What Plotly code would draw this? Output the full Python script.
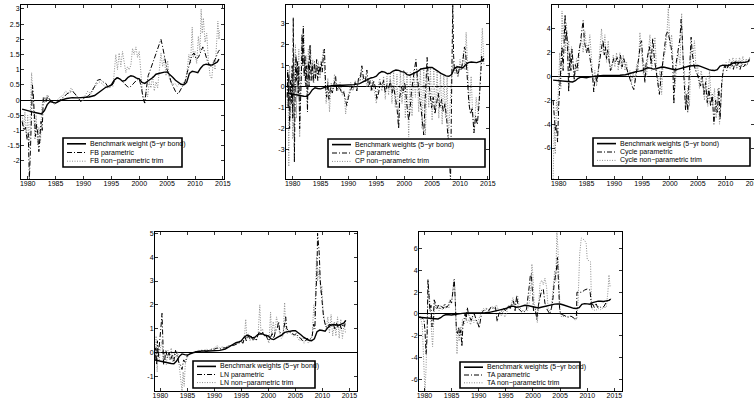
import plotly.graph_objects as go

W, H = 754, 402
FONT = "Liberation Sans, Arial, Helvetica, sans-serif"

# ---------------- data (year, value) ----------------
BENCH = [(1979.0,-0.30),(1979.5,-0.33),(1980.0,-0.36),(1980.5,-0.38),(1981.0,-0.40),(1981.5,-0.42),(1982.0,-0.45),(1982.5,-0.46),(1983.0,-0.35),(1983.5,-0.15),(1984.0,-0.05),(1984.5,-0.08),(1985.0,-0.10),(1985.5,-0.05),(1986.0,0.0),(1987.0,0.05),(1988.0,0.08),(1989.0,0.07),(1990.0,0.08),(1991.0,0.10),(1992.0,0.15),(1992.5,0.22),(1993.0,0.30),(1993.5,0.38),(1994.0,0.42),(1994.5,0.45),(1995.0,0.50),(1995.5,0.65),(1996.0,0.73),(1996.5,0.70),(1997.0,0.62),(1997.5,0.65),(1998.0,0.75),(1998.5,0.80),(1999.0,0.78),(1999.5,0.72),(2000.0,0.70),(2000.5,0.58),(2001.0,0.55),(2001.5,0.62),(2002.0,0.68),(2002.5,0.75),(2003.0,0.85),(2003.5,0.88),(2004.0,0.90),(2004.5,0.92),(2005.0,0.92),(2005.5,0.85),(2006.0,0.75),(2006.5,0.65),(2007.0,0.58),(2007.5,0.52),(2008.0,0.50),(2008.5,0.58),(2009.0,0.88),(2009.5,0.95),(2010.0,0.93),(2010.5,0.90),(2011.0,1.05),(2011.5,1.15),(2012.0,1.18),(2012.5,1.17),(2013.0,1.15),(2013.5,1.20),(2014.0,1.25),(2014.3,1.35)]

FB_PAR = [(1979.0,-0.7),(1979.3,-1.0),(1979.6,-0.9),(1979.9,-1.3),(1980.1,-1.1),(1980.3,-2.6),(1980.5,-1.6),(1980.7,-0.5),(1980.85,0.5),(1981.0,0.2),(1981.2,-0.4),(1981.4,-1.2),(1981.6,-0.8),(1981.8,-1.1),(1982.0,-1.7),(1982.2,-1.3),(1982.4,-0.7),(1982.6,-1.0),(1982.8,0.05),(1983.0,0.1),(1983.3,-0.05),(1983.6,0.15),(1984.0,0.0),(1984.5,-0.05),(1985.0,-0.1),(1985.5,-0.05),(1986.0,0.05),(1986.5,0.1),(1987.0,0.2),(1987.5,0.25),(1988.0,0.3),(1988.5,0.2),(1989.0,0.1),(1989.5,-0.05),(1990.0,0.05),(1990.5,0.1),(1991.0,0.15),(1991.5,0.3),(1992.0,0.45),(1992.5,0.65),(1993.0,0.68),(1993.5,0.6),(1994.0,0.55),(1994.5,0.4),(1995.0,0.45),(1995.5,0.6),(1996.0,0.75),(1996.5,0.7),(1997.0,0.6),(1997.5,0.5),(1998.0,0.42),(1998.5,0.45),(1999.0,0.55),(1999.5,0.65),(2000.0,0.7),(2000.4,0.4),(2000.7,0.05),(2001.0,-0.1),(2001.3,0.4),(2001.6,0.8),(2002.0,1.0),(2002.4,1.2),(2002.8,1.4),(2003.2,1.6),(2003.6,1.85),(2003.9,2.0),(2004.2,1.75),(2004.6,1.4),(2005.0,1.0),(2005.4,0.8),(2005.8,0.55),(2006.2,0.4),(2006.6,0.25),(2007.0,0.2),(2007.4,0.35),(2007.8,0.5),(2008.2,0.6),(2008.6,0.9),(2009.0,1.2),(2009.4,1.45),(2009.8,1.55),(2010.2,1.35),(2010.6,1.4),(2011.0,1.6),(2011.4,1.75),(2011.8,1.55),(2012.2,1.3),(2012.6,1.15),(2013.0,1.1),(2013.4,1.25),(2013.8,1.45),(2014.2,1.6),(2014.4,1.65)]

FB_NP = [(1979.0,-0.5),(1979.3,-0.9),(1979.5,-0.4),(1979.8,-1.2),(1980.0,-0.5),(1980.3,-1.6),(1980.5,-0.3),(1980.7,0.9),(1980.9,0.3),(1981.1,-0.6),(1981.3,-1.3),(1981.5,-0.5),(1981.8,-1.5),(1982.0,-0.9),(1982.3,-1.4),(1982.5,-0.3),(1982.8,0.1),(1983.0,-0.1),(1983.4,0.15),(1983.8,0.0),(1984.3,-0.05),(1984.8,-0.15),(1985.3,0.0),(1985.8,0.1),(1986.3,0.15),(1986.8,0.3),(1987.3,0.2),(1987.8,0.4),(1988.3,0.25),(1988.8,0.1),(1989.3,0.0),(1989.8,-0.05),(1990.3,0.15),(1990.8,0.3),(1991.3,0.2),(1991.8,0.35),(1992.3,0.5),(1992.8,0.6),(1993.3,0.55),(1993.8,0.45),(1994.3,0.4),(1994.8,0.5),(1995.3,0.45),(1995.8,1.5),(1996.1,1.0),(1996.4,1.55),(1996.7,1.1),(1997.0,1.6),(1997.3,1.2),(1997.6,0.9),(1997.9,1.1),(1998.2,1.0),(1998.5,1.15),(1998.8,1.7),(1999.1,1.5),(1999.4,1.75),(1999.7,1.4),(2000.0,1.6),(2000.3,0.9),(2000.6,0.2),(2000.9,-0.1),(2001.2,0.3),(2001.5,0.1),(2001.8,0.6),(2002.1,0.4),(2002.4,0.8),(2002.7,0.3),(2003.0,0.6),(2003.3,0.4),(2003.6,1.0),(2003.9,1.55),(2004.2,1.1),(2004.5,1.4),(2004.8,0.8),(2005.1,1.3),(2005.4,0.7),(2005.7,0.6),(2006.0,0.5),(2006.4,0.55),(2006.8,0.45),(2007.2,0.55),(2007.6,0.5),(2008.0,0.6),(2008.3,0.5),(2008.6,1.0),(2008.9,1.5),(2009.2,1.2),(2009.5,2.4),(2009.7,1.4),(2010.0,1.6),(2010.3,1.2),(2010.6,2.1),(2010.9,1.6),(2011.1,3.0),(2011.3,2.2),(2011.5,2.7),(2011.8,1.9),(2012.1,2.2),(2012.4,1.3),(2012.7,0.8),(2013.0,0.7),(2013.3,1.3),(2013.6,1.0),(2013.9,2.2),(2014.1,2.6),(2014.3,2.0),(2014.4,2.3)]

CP_PAR = [(1979.0,-0.5),(1979.1,0.8),(1979.2,-1.0),(1979.3,0.6),(1979.45,-2.0),(1979.6,0.3),(1979.75,-0.8),(1979.9,1.0),(1980.0,-1.5),(1980.1,3.3),(1980.2,0.5),(1980.3,-3.6),(1980.45,0.2),(1980.6,1.5),(1980.7,0.3),(1980.85,1.2),(1981.0,-0.3),(1981.1,1.0),(1981.25,-2.0),(1981.4,-1.0),(1981.55,0.5),(1981.7,2.5),(1981.8,1.0),(1981.9,2.9),(1982.05,0.5),(1982.2,1.5),(1982.35,0.0),(1982.5,1.0),(1982.65,-1.2),(1982.8,1.2),(1982.95,0.0),(1983.1,2.0),(1983.3,0.3),(1983.5,1.1),(1983.7,0.2),(1983.9,1.2),(1984.1,0.4),(1984.3,1.3),(1984.5,0.3),(1984.7,1.0),(1984.9,0.6),(1985.1,1.2),(1985.3,0.7),(1985.5,1.5),(1985.7,1.8),(1985.9,0.0),(1986.1,-0.5),(1986.3,0.2),(1986.5,-0.6),(1986.8,0.0),(1987.1,-0.3),(1987.4,0.1),(1987.7,0.5),(1987.9,-0.2),(1988.2,0.0),(1988.5,-0.1),(1988.8,-0.3),(1989.1,-0.2),(1989.4,-0.6),(1989.7,-0.9),(1990.0,-0.5),(1990.3,-0.2),(1990.6,0.0),(1990.9,-0.1),(1991.2,0.2),(1991.5,-0.2),(1991.8,0.4),(1992.1,0.3),(1992.4,1.0),(1992.7,0.4),(1993.0,0.2),(1993.3,0.8),(1993.6,0.0),(1993.9,0.3),(1994.2,-0.2),(1994.5,0.3),(1994.8,0.0),(1995.1,-0.6),(1995.4,-0.3),(1995.7,0.2),(1996.0,0.0),(1996.3,0.3),(1996.6,-0.3),(1996.9,0.1),(1997.2,-0.1),(1997.5,0.3),(1997.8,-0.3),(1998.1,0.0),(1998.4,-0.5),(1998.7,-1.0),(1999.0,-2.0),(1999.2,-0.5),(1999.5,0.0),(1999.8,-0.3),(2000.1,0.2),(2000.3,-0.5),(2000.6,-1.2),(2000.8,-1.6),(2001.0,-1.2),(2001.3,-0.2),(2001.6,0.3),(2001.9,1.0),(2002.1,1.3),(2002.3,0.6),(2002.6,-0.3),(2002.9,-0.8),(2003.2,-1.5),(2003.5,-2.3),(2003.7,-1.0),(2003.9,0.5),(2004.1,1.4),(2004.3,0.5),(2004.6,-0.4),(2004.9,-1.0),(2005.2,-0.5),(2005.5,-1.3),(2005.8,-0.8),(2006.1,-0.3),(2006.4,-1.0),(2006.7,-0.6),(2007.0,-1.2),(2007.3,-0.8),(2007.6,-1.5),(2007.9,-2.5),(2008.1,-3.4),(2008.3,-4.5),(2008.5,-1.0),(2008.7,3.95),(2008.85,1.5),(2009.0,0.8),(2009.3,0.9),(2009.6,0.5),(2009.9,0.9),(2010.2,0.8),(2010.5,1.2),(2010.8,1.9),(2011.0,1.7),(2011.3,0.5),(2011.6,-0.8),(2011.9,-1.3),(2012.2,-1.0),(2012.5,-2.2),(2012.8,-1.4),(2013.1,-1.8),(2013.4,-0.9),(2013.7,0.5),(2013.9,1.5),(2014.1,1.2),(2014.3,1.4)]

CP_NP = [(1979.0,-1.0),(1979.15,0.8),(1979.3,-3.8),(1979.45,1.0),(1979.6,-1.5),(1979.8,0.5),(1980.0,-2.5),(1980.15,1.5),(1980.3,-0.5),(1980.5,2.0),(1980.65,-1.5),(1980.8,1.0),(1980.95,-0.5),(1981.1,1.8),(1981.25,-2.4),(1981.4,0.2),(1981.6,2.5),(1981.8,1.0),(1982.0,2.5),(1982.2,0.2),(1982.4,1.5),(1982.6,-0.8),(1982.8,1.8),(1983.0,0.6),(1983.2,2.0),(1983.4,0.4),(1983.6,1.3),(1983.8,0.2),(1984.0,1.0),(1984.3,0.5),(1984.6,1.2),(1984.9,0.4),(1985.2,1.0),(1985.5,1.8),(1985.8,0.3),(1986.0,-0.8),(1986.3,0.4),(1986.6,-1.2),(1986.9,0.2),(1987.2,-0.2),(1987.5,0.6),(1987.8,0.0),(1988.1,-0.2),(1988.5,0.2),(1988.9,-0.4),(1989.2,-0.2),(1989.5,-1.3),(1989.8,-0.5),(1990.1,-0.3),(1990.4,0.2),(1990.8,-0.2),(1991.2,0.3),(1991.6,0.0),(1992.0,0.4),(1992.3,0.8),(1992.6,0.2),(1993.0,0.5),(1993.3,0.0),(1993.6,0.4),(1994.0,-0.2),(1994.3,0.3),(1994.7,-0.3),(1995.0,-0.8),(1995.3,0.0),(1995.6,0.4),(1996.0,-0.2),(1996.3,0.5),(1996.6,-0.6),(1996.9,0.5),(1997.2,-0.4),(1997.5,0.6),(1997.8,-0.8),(1998.1,0.7),(1998.4,-1.0),(1998.7,0.6),(1999.0,-1.8),(1999.3,0.7),(1999.6,-0.8),(1999.9,0.8),(2000.2,-1.5),(2000.5,0.7),(2000.8,-2.4),(2001.1,0.7),(2001.4,-1.4),(2001.7,0.8),(2002.0,-0.5),(2002.3,0.8),(2002.6,-1.2),(2002.9,0.9),(2003.2,-2.0),(2003.5,0.9),(2003.8,-2.3),(2004.1,0.9),(2004.4,-1.0),(2004.7,0.9),(2005.0,-1.6),(2005.3,0.9),(2005.6,-1.2),(2005.9,0.8),(2006.2,-1.5),(2006.5,0.7),(2006.8,-1.8),(2007.1,0.6),(2007.4,-1.5),(2007.7,0.5),(2007.9,-2.5),(2008.2,-1.0),(2008.5,0.5),(2008.8,1.2),(2009.1,0.6),(2009.4,1.0),(2009.7,0.5),(2010.0,1.3),(2010.3,0.8),(2010.6,1.6),(2010.9,0.8),(2011.1,2.6),(2011.4,0.3),(2011.7,-1.0),(2012.0,0.5),(2012.3,-1.5),(2012.6,-2.0),(2012.9,-0.5),(2013.2,-1.2),(2013.5,-0.3),(2013.8,1.5),(2014.0,2.8),(2014.3,1.0)]

CYC_PAR = [(1979.0,-2.0),(1979.2,-3.0),(1979.4,-4.5),(1979.6,-4.0),(1979.8,-5.5),(1980.0,-2.5),(1980.2,-0.5),(1980.4,1.0),(1980.6,2.5),(1980.8,0.5),(1981.0,2.8),(1981.15,5.2),(1981.3,3.0),(1981.45,3.8),(1981.6,2.5),(1981.8,-1.3),(1982.0,2.0),(1982.2,0.5),(1982.4,2.3),(1982.6,1.0),(1982.8,-0.3),(1983.0,1.0),(1983.3,0.5),(1983.6,2.0),(1983.9,2.8),(1984.2,4.0),(1984.4,4.7),(1984.6,3.0),(1984.8,2.5),(1985.0,2.0),(1985.3,2.6),(1985.6,1.5),(1985.9,0.5),(1986.1,0.0),(1986.3,-1.3),(1986.5,-0.3),(1986.7,0.0),(1986.9,-0.5),(1987.2,0.8),(1987.5,1.8),(1987.8,2.7),(1988.0,3.0),(1988.2,1.8),(1988.4,2.5),(1988.6,1.5),(1988.8,2.2),(1989.0,1.5),(1989.3,0.5),(1989.6,1.0),(1989.9,1.5),(1990.2,1.2),(1990.5,1.6),(1990.8,1.0),(1991.1,1.8),(1991.4,0.8),(1991.7,1.5),(1992.0,1.0),(1992.3,0.5),(1992.6,0.2),(1992.9,-0.3),(1993.2,-0.8),(1993.5,-1.1),(1993.8,-0.3),(1994.1,0.8),(1994.4,1.6),(1994.7,2.8),(1994.9,3.0),(1995.1,1.5),(1995.3,0.0),(1995.5,-0.5),(1995.7,1.0),(1996.0,1.8),(1996.3,2.5),(1996.6,1.0),(1996.9,3.2),(1997.2,1.5),(1997.5,0.5),(1997.8,-0.5),(1998.1,-1.5),(1998.4,0.0),(1998.7,1.2),(1999.0,2.5),(1999.3,3.5),(1999.6,3.8),(1999.9,3.0),(2000.2,2.5),(2000.5,1.0),(2000.7,-2.3),(2000.9,0.5),(2001.2,1.5),(2001.5,2.5),(2001.8,3.2),(2002.0,4.8),(2002.2,3.5),(2002.4,1.0),(2002.6,-1.5),(2002.8,-2.8),(2003.0,-1.5),(2003.2,-3.0),(2003.4,-0.5),(2003.6,1.5),(2003.8,3.3),(2004.0,2.0),(2004.3,1.0),(2004.6,0.5),(2004.9,0.2),(2005.2,-0.3),(2005.5,-0.8),(2005.8,0.0),(2006.1,-1.5),(2006.4,-0.5),(2006.7,-2.2),(2007.0,-1.0),(2007.3,-2.5),(2007.6,-1.5),(2007.9,-4.0),(2008.2,-2.0),(2008.5,-3.0),(2008.8,-1.0),(2009.0,-3.6),(2009.3,-0.5),(2009.6,0.6),(2009.9,0.9),(2010.2,0.5),(2010.5,1.0),(2010.8,0.7),(2011.1,1.2),(2011.4,0.6),(2011.7,1.3),(2012.0,0.7),(2012.3,1.2),(2012.6,0.6),(2012.9,1.1),(2013.2,0.8),(2013.5,1.0),(2013.8,0.9),(2014.1,1.3),(2014.3,1.5)]

CYC_NP = [(1979.0,-8.8),(1979.2,-4.0),(1979.4,-6.5),(1979.6,-2.0),(1979.8,-3.0),(1980.0,0.5),(1980.2,2.0),(1980.4,-1.0),(1980.6,5.5),(1980.8,3.0),(1981.0,4.5),(1981.2,2.0),(1981.4,4.5),(1981.6,1.5),(1981.8,3.0),(1982.0,0.5),(1982.3,2.5),(1982.6,1.0),(1982.9,0.0),(1983.2,1.5),(1983.5,0.5),(1983.8,2.5),(1984.1,3.2),(1984.4,2.0),(1984.7,3.8),(1985.0,2.5),(1985.3,2.0),(1985.6,3.5),(1985.9,1.0),(1986.2,-0.5),(1986.5,0.5),(1986.8,-0.8),(1987.1,0.5),(1987.4,2.5),(1987.7,4.0),(1988.0,2.0),(1988.3,3.5),(1988.6,1.2),(1988.9,3.0),(1989.2,1.0),(1989.5,0.5),(1989.8,1.8),(1990.1,0.8),(1990.4,2.0),(1990.7,0.5),(1991.0,2.0),(1991.3,0.6),(1991.6,1.8),(1991.9,0.5),(1992.2,1.2),(1992.5,0.0),(1992.8,0.5),(1993.1,-0.5),(1993.4,0.3),(1993.7,-0.5),(1994.0,1.0),(1994.3,0.5),(1994.6,3.7),(1994.9,1.5),(1995.2,0.2),(1995.5,1.0),(1995.8,0.0),(1996.1,2.0),(1996.4,3.5),(1996.7,0.5),(1997.0,2.2),(1997.3,3.3),(1997.6,0.5),(1997.9,-0.8),(1998.2,0.5),(1998.5,-1.5),(1998.8,1.5),(1999.1,2.0),(1999.4,3.0),(1999.7,5.8),(2000.0,2.5),(2000.3,3.5),(2000.6,0.8),(2000.9,-1.0),(2001.2,1.0),(2001.5,2.0),(2001.8,1.0),(2002.1,5.3),(2002.3,2.0),(2002.6,0.5),(2002.9,-2.5),(2003.2,-1.0),(2003.5,-2.5),(2003.8,2.5),(2004.1,1.5),(2004.4,3.0),(2004.7,0.5),(2005.0,0.8),(2005.3,-1.0),(2005.6,0.5),(2005.9,-0.5),(2006.2,-2.0),(2006.5,0.0),(2006.8,-2.5),(2007.1,0.5),(2007.4,-1.8),(2007.7,-2.5),(2008.0,-1.0),(2008.3,-3.5),(2008.6,-1.0),(2008.9,-4.0),(2009.2,-1.5),(2009.5,0.3),(2009.8,0.9),(2010.1,1.2),(2010.4,0.7),(2010.7,1.5),(2011.0,0.8),(2011.3,1.6),(2011.6,1.0),(2011.9,1.5),(2012.2,0.9),(2012.5,1.6),(2012.8,1.0),(2013.1,1.7),(2013.4,0.9),(2013.7,1.5),(2014.0,1.2),(2014.3,1.6)]

LN_PAR = [(1979.0,-0.3),(1979.15,0.2),(1979.3,-0.5),(1979.45,0.5),(1979.6,-0.2),(1979.8,0.3),(1980.0,0.5),(1980.15,1.2),(1980.3,1.65),(1980.45,0.8),(1980.6,-0.5),(1980.8,-0.3),(1981.0,0.1),(1981.3,-0.2),(1981.6,0.0),(1981.9,-0.3),(1982.2,-0.1),(1982.5,-0.35),(1982.8,0.1),(1983.1,-0.1),(1983.4,-0.4),(1983.7,-0.5),(1984.0,-0.7),(1984.3,-0.3),(1984.6,-0.4),(1985.0,-0.1),(1985.5,-0.05),(1986.0,0.0),(1986.5,0.05),(1987.0,0.05),(1987.5,0.1),(1988.0,0.1),(1988.5,0.05),(1989.0,0.1),(1989.5,0.15),(1990.0,0.15),(1990.5,0.2),(1991.0,0.15),(1991.5,0.2),(1992.0,0.2),(1992.5,0.25),(1993.0,0.3),(1993.5,0.3),(1994.0,0.35),(1994.5,0.4),(1995.0,0.45),(1995.3,0.4),(1995.6,0.7),(1995.9,0.5),(1996.2,0.75),(1996.5,0.6),(1996.8,0.7),(1997.1,0.55),(1997.4,0.6),(1997.7,0.5),(1998.0,0.7),(1998.3,0.9),(1998.6,0.75),(1998.9,0.85),(1999.2,0.7),(1999.5,0.75),(1999.8,0.6),(2000.1,0.5),(2000.4,0.65),(2000.7,0.8),(2001.0,0.6),(2001.3,0.9),(2001.6,1.0),(2001.9,1.3),(2002.1,0.9),(2002.4,0.7),(2002.7,0.8),(2003.0,1.3),(2003.2,1.5),(2003.4,1.0),(2003.7,0.9),(2004.0,0.85),(2004.4,0.8),(2004.8,0.75),(2005.2,0.8),(2005.6,0.65),(2006.0,0.6),(2006.3,0.5),(2006.6,0.6),(2006.9,0.5),(2007.2,0.6),(2007.5,0.55),(2007.8,0.6),(2008.1,0.7),(2008.4,1.2),(2008.6,1.0),(2008.8,2.5),(2009.0,3.5),(2009.1,5.0),(2009.25,4.5),(2009.4,4.2),(2009.6,3.0),(2009.8,2.5),(2010.0,2.0),(2010.2,1.5),(2010.5,1.2),(2010.8,1.05),(2011.1,1.15),(2011.4,1.2),(2011.7,1.1),(2012.0,1.2),(2012.3,1.0),(2012.6,1.25),(2012.9,1.05),(2013.2,1.2),(2013.5,1.0),(2013.8,1.2),(2014.1,1.1),(2014.3,1.35)]

LN_NP = [(1979.0,-0.2),(1979.2,0.7),(1979.4,-0.8),(1979.6,0.3),(1979.8,-0.3),(1980.0,0.2),(1980.3,0.5),(1980.5,-0.4),(1980.8,0.0),(1981.1,-0.5),(1981.4,0.1),(1981.7,-0.3),(1982.0,0.2),(1982.3,-0.4),(1982.6,0.0),(1982.9,-0.2),(1983.2,0.05),(1983.5,-0.6),(1983.8,-1.0),(1984.0,-1.6),(1984.2,-0.8),(1984.4,-1.4),(1984.6,-0.5),(1984.8,-0.3),(1985.2,-0.1),(1985.6,-0.05),(1986.0,0.0),(1986.5,0.05),(1987.0,0.1),(1987.5,0.05),(1988.0,0.1),(1988.5,0.15),(1989.0,0.1),(1989.5,0.15),(1990.0,0.2),(1990.5,0.3),(1991.0,0.2),(1991.5,0.25),(1992.0,0.2),(1992.5,0.3),(1993.0,0.3),(1993.5,0.35),(1994.0,0.4),(1994.5,0.4),(1995.0,0.5),(1995.3,0.4),(1995.6,0.8),(1995.8,1.4),(1996.0,0.6),(1996.3,0.8),(1996.6,0.5),(1996.9,0.7),(1997.2,0.5),(1997.5,0.65),(1997.8,0.5),(1998.1,0.8),(1998.4,2.0),(1998.6,0.9),(1998.9,1.0),(1999.2,0.7),(1999.5,0.8),(1999.8,0.6),(2000.1,0.4),(2000.4,1.7),(2000.6,0.7),(2000.9,1.3),(2001.2,0.8),(2001.5,1.5),(2001.8,1.1),(2002.1,0.8),(2002.4,0.6),(2002.7,0.7),(2003.0,2.1),(2003.2,1.0),(2003.5,0.8),(2003.8,0.9),(2004.2,0.8),(2004.6,0.7),(2005.0,0.75),(2005.4,0.6),(2005.8,0.5),(2006.2,0.6),(2006.6,0.4),(2007.0,0.6),(2007.4,0.4),(2007.8,0.5),(2008.1,0.7),(2008.4,2.0),(2008.6,1.5),(2008.9,4.0),(2009.1,3.0),(2009.4,3.5),(2009.7,2.5),(2009.9,2.8),(2010.1,1.8),(2010.4,1.3),(2010.7,1.0),(2011.0,1.5),(2011.3,0.8),(2011.6,1.6),(2011.9,0.7),(2012.2,1.3),(2012.5,0.7),(2012.8,1.5),(2013.1,0.6),(2013.4,1.4),(2013.7,0.6),(2014.0,1.2),(2014.3,0.8)]

TA_PAR = [(1979.0,-0.3),(1979.3,-0.3),(1979.6,-0.4),(1979.9,-0.5),(1980.1,-1.5),(1980.3,-3.7),(1980.5,-2.0),(1980.65,3.2),(1980.8,2.0),(1981.0,0.3),(1981.2,0.8),(1981.4,-1.2),(1981.6,-0.8),(1981.8,1.3),(1982.0,1.0),(1982.3,0.5),(1982.6,0.8),(1982.9,0.5),(1983.2,0.7),(1983.5,0.5),(1983.8,0.9),(1984.1,0.6),(1984.4,0.8),(1984.7,1.3),(1985.0,1.0),(1985.3,2.6),(1985.5,3.2),(1985.7,1.0),(1985.9,-1.6),(1986.1,-1.8),(1986.3,-1.2),(1986.5,-2.0),(1986.7,-1.5),(1986.9,-3.0),(1987.1,-1.0),(1987.3,-0.5),(1987.5,0.0),(1987.7,-0.5),(1987.9,0.6),(1988.1,0.0),(1988.3,-0.3),(1988.6,-0.6),(1988.9,-0.2),(1989.2,0.0),(1989.5,-0.5),(1989.8,-0.8),(1990.1,-1.3),(1990.4,-0.3),(1990.7,0.2),(1991.0,0.4),(1991.3,0.5),(1991.6,0.4),(1991.9,0.3),(1992.2,0.6),(1992.5,0.7),(1992.8,0.5),(1993.1,0.6),(1993.4,-0.7),(1993.7,0.0),(1994.0,0.2),(1994.3,0.3),(1994.6,0.5),(1994.9,0.3),(1995.2,0.5),(1995.5,0.8),(1995.8,0.5),(1996.1,0.9),(1996.4,1.2),(1996.7,0.3),(1997.0,1.7),(1997.3,0.5),(1997.6,0.3),(1997.9,0.2),(1998.2,0.3),(1998.5,0.2),(1998.8,0.4),(1999.1,1.5),(1999.3,2.5),(1999.5,3.5),(1999.7,3.7),(1999.9,2.0),(2000.1,0.3),(2000.4,0.5),(2000.7,-0.5),(2001.0,0.8),(2001.3,1.5),(2001.6,2.2),(2001.9,2.3),(2002.2,1.0),(2002.5,0.5),(2002.8,0.2),(2003.1,0.0),(2003.4,0.5),(2003.7,1.5),(2003.9,2.8),(2004.1,3.5),(2004.3,4.0),(2004.5,5.2),(2004.7,3.0),(2004.9,0.5),(2005.1,0.0),(2005.5,-0.1),(2006.0,-0.2),(2006.5,-0.3),(2007.0,-0.2),(2007.5,-0.4),(2007.9,-0.5),(2008.0,-0.2),(2008.1,2.0),(2008.5,2.0),(2009.0,2.0),(2009.5,2.2),(2010.0,2.3),(2010.5,2.2),(2010.8,0.5),(2011.0,0.9),(2011.3,0.6),(2011.6,1.0),(2011.9,0.6),(2012.2,0.7),(2012.5,0.6),(2012.8,0.6),(2013.1,0.7),(2013.4,1.0),(2013.7,1.2),(2014.0,1.2),(2014.3,1.4)]

TA_NP = [(1979.0,-0.3),(1979.3,-0.4),(1979.6,-1.0),(1979.9,-4.0),(1980.1,-7.3),(1980.3,-5.0),(1980.5,-1.0),(1980.7,2.6),(1980.9,1.8),(1981.1,0.5),(1981.3,-1.5),(1981.5,-3.0),(1981.7,-1.0),(1981.9,1.2),(1982.1,0.5),(1982.4,0.8),(1982.7,0.3),(1983.0,0.8),(1983.3,0.4),(1983.6,0.9),(1983.9,0.5),(1984.2,0.7),(1984.5,0.5),(1984.8,1.2),(1985.1,1.5),(1985.4,3.1),(1985.6,2.5),(1985.8,-1.0),(1986.0,-3.7),(1986.2,-1.5),(1986.4,-2.5),(1986.6,-1.2),(1986.8,-2.0),(1987.0,-0.5),(1987.3,-1.0),(1987.6,-0.3),(1987.9,-0.8),(1988.2,-0.5),(1988.5,-1.0),(1988.8,-0.3),(1989.1,-0.8),(1989.4,-0.5),(1989.7,-0.9),(1990.0,-0.5),(1990.3,0.0),(1990.6,0.3),(1990.9,0.5),(1991.2,0.3),(1991.5,0.5),(1991.8,0.4),(1992.1,0.5),(1992.4,0.6),(1992.7,0.4),(1993.0,0.7),(1993.3,0.8),(1993.6,0.3),(1993.9,0.0),(1994.2,-0.2),(1994.5,0.3),(1994.8,-0.3),(1995.1,0.0),(1995.4,0.6),(1995.7,0.8),(1996.0,0.9),(1996.3,1.5),(1996.6,0.8),(1996.9,1.2),(1997.2,1.6),(1997.5,0.6),(1997.8,0.4),(1998.1,0.3),(1998.4,0.2),(1998.7,0.4),(1999.0,0.3),(1999.3,1.0),(1999.6,2.5),(1999.8,4.6),(2000.0,3.5),(2000.2,1.0),(2000.5,0.3),(2000.8,-0.8),(2001.0,0.5),(2001.3,2.8),(2001.6,3.1),(2001.9,2.7),(2002.2,3.3),(2002.5,2.5),(2002.8,0.5),(2003.1,0.3),(2003.4,0.6),(2003.7,2.0),(2004.0,4.0),(2004.2,3.0),(2004.4,7.6),(2004.6,6.0),(2004.8,2.0),(2005.0,0.0),(2005.3,-0.3),(2005.8,-0.2),(2006.3,-0.3),(2006.8,-0.2),(2007.3,-0.3),(2007.8,-0.6),(2008.1,-0.4),(2008.3,1.0),(2008.6,5.5),(2008.9,7.0),(2009.2,6.9),(2009.5,6.8),(2009.8,6.5),(2010.0,5.0),(2010.3,4.9),(2010.6,4.8),(2010.8,0.5),(2011.1,0.4),(2011.5,0.3),(2012.0,0.5),(2012.5,0.4),(2013.0,0.6),(2013.5,0.6),(2013.8,2.0),(2014.0,3.6),(2014.2,2.5),(2014.3,2.6)]

X_TICKS = [1980, 1985, 1990, 1995, 2000, 2005, 2010, 2015]
Y_TICKS_FB = [-2, -1.5, -1, -0.5, 0, 0.5, 1, 1.5, 2, 2.5, 3]
Y_TICKS_CP = [-3, -2, -1, 0, 1, 2, 3]
Y_TICKS_CYC = [-6, -4, -2, 0, 2, 4]
Y_TICKS_LN = [-1, 0, 1, 2, 3, 4, 5]
Y_TICKS_TA = [-6, -4, -2, 0, 2, 4, 6]

BENCH_LABEL_1 = "Benchmark weight (5\u2212yr bond)"
BENCH_LABEL = "Benchmark weights (5\u2212yr bond)"

# ---------------- layout config (pixels) ----------------
panels = [
    dict(par=FB_PAR, npar=FB_NP, names=(BENCH_LABEL_1, "FB parametric", "FB non\u2212parametric trim"),
         box=(21, 224, 5, 179), xr=(1978.8, 2015.2), yr=(-2.6, 3.13), yt=Y_TICKS_FB, leg=(63, 182, 138, 167)),
    dict(par=CP_PAR, npar=CP_NP, names=(BENCH_LABEL, "CP parametric", "CP non\u2212parametric trim"),
         box=(286, 489, 5, 179), xr=(1978.8, 2015.2), yr=(-4.4, 3.9), yt=Y_TICKS_CP, leg=(328, 485, 139, 167)),
    dict(par=CYC_PAR, npar=CYC_NP, names=(BENCH_LABEL, "Cycle parametric", "Cycle non\u2212parametric trim"),
         box=(552, 754, 5, 179), xr=(1978.8, 2015.1), yr=(-8.6, 6.0), yt=Y_TICKS_CYC, leg=(593, 750, 138, 166)),
    dict(par=LN_PAR, npar=LN_NP, names=(BENCH_LABEL, "LN parametric", "LN non\u2212parametric trim"),
         box=(155, 357, 232, 391), xr=(1979.0, 2016.4), yr=(-1.6, 5.05), yt=Y_TICKS_LN, leg=(193, 315, 361, 388)),
    dict(par=TA_PAR, npar=TA_NP, names=(BENCH_LABEL, "TA parametric", "TA non\u2212parametric trim"),
         box=(419, 622, 232, 391), xr=(1979.0, 2016.4), yr=(-7.1, 7.55), yt=Y_TICKS_TA, leg=(460, 580, 362, 388)),
]

def px(x):
    return x / W

def py(y):
    return 1 - y / H

def fmt(v):
    return f"{v:g}"

fig = go.Figure()
shapes = []
annotations = []
layout = dict(
    width=W, height=H, margin=dict(l=0, r=0, t=0, b=0),
    paper_bgcolor="white", plot_bgcolor="white", showlegend=False,
    font=dict(family=FONT, size=7, color="black"),
)

BENCH_STYLE = dict(color="black", width=1.4)
PAR_STYLE = dict(color="black", width=1.0, dash="5px,2px,1px,2px")
NP_STYLE = dict(color="#8c8c8c", width=1.0, dash="1px,1.5px")

for i, p in enumerate(panels, start=1):
    sfx = "" if i == 1 else str(i)
    xa, ya = f"x{sfx}", f"y{sfx}"
    x0, x1, y0, y1 = p["box"]
    axis_common = dict(showline=True, linecolor="black", linewidth=1, mirror="ticks",
                       ticks="inside", ticklen=3, tickwidth=0.8, tickcolor="black",
                       showgrid=False, automargin=False, ticklabeloverflow="allow",
                       tickfont=dict(size=7, family=FONT, color="black"))
    layout[f"xaxis{sfx}"] = dict(domain=[px(x0), px(x1)], anchor=ya, range=list(p["xr"]),
                                 tickvals=X_TICKS, ticktext=[str(t) for t in X_TICKS],
                                 zeroline=False, ticklabelstandoff=-2, **axis_common)
    layout[f"yaxis{sfx}"] = dict(domain=[py(y1), py(y0)], anchor=xa, range=list(p["yr"]),
                                 tickvals=p["yt"], ticktext=[fmt(t) for t in p["yt"]],
                                 zeroline=True, zerolinecolor="black", zerolinewidth=1,
                                 ticklabelstandoff=-1, **axis_common)

    nx, ny = zip(*p["npar"])
    fig.add_trace(go.Scatter(x=nx, y=ny, mode="lines", line=NP_STYLE, name=p["names"][2],
                             xaxis=xa, yaxis=ya, hoverinfo="skip"))
    pxs, pys = zip(*p["par"])
    fig.add_trace(go.Scatter(x=pxs, y=pys, mode="lines", line=PAR_STYLE, name=p["names"][1],
                             xaxis=xa, yaxis=ya, hoverinfo="skip"))
    bx, by = zip(*BENCH)
    fig.add_trace(go.Scatter(x=bx, y=by, mode="lines", line=BENCH_STYLE, name=p["names"][0],
                             xaxis=xa, yaxis=ya, hoverinfo="skip"))

    # MATLAB-style legend box (drawn as layout decoration)
    lx0, lx1, ly0, ly1 = p["leg"]
    shapes.append(dict(type="rect", xref="paper", yref="paper", x0=px(lx0), x1=px(lx1),
                       y0=py(ly1), y1=py(ly0), line=dict(color="black", width=1.6),
                       fillcolor="white", layer="above"))
    rows_h = (ly1 - ly0)
    styles = [BENCH_STYLE, PAR_STYLE, NP_STYLE]
    for k in range(3):
        ry = ly0 + rows_h * (0.2 + 0.3 * k)
        st = dict(styles[k])
        if k == 0:
            st["width"] = 1.6
        shapes.append(dict(type="line", xref="paper", yref="paper", x0=px(lx0 + 4), x1=px(lx0 + 23),
                           y0=py(ry), y1=py(ry), line=st, layer="above"))
        annotations.append(dict(xref="paper", yref="paper", x=px(lx0 + 25), y=py(ry),
                                xanchor="left", yanchor="middle", showarrow=False,
                                text=p["names"][k], font=dict(size=7, family=FONT, color="black")))

layout["shapes"] = shapes
layout["annotations"] = annotations
fig.update_layout(**layout)
fig.write_html("out.html",
               config={"displayModeBar": False, "staticPlot": True},
               post_script="document.body.style.margin='0';document.body.style.overflow='hidden';")
